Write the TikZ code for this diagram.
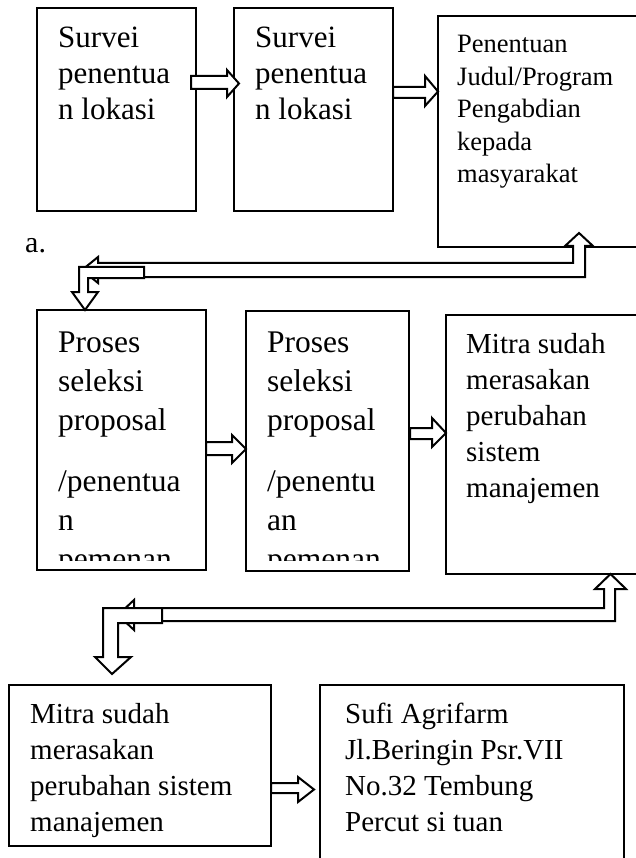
\documentclass[tikz,border=0pt]{standalone}
\usepackage{fontspec}
\setmainfont{Liberation Serif}
\usetikzlibrary{fit}
\newcommand{\boxlines}[3]{\parbox[t]{300pt}{\fontsize{#1}{#2}\selectfont\raggedright #3}}
\tikzset{
  box/.style={draw=black, line width=1.2pt, inner sep=0pt},
  barrow/.style={draw=black, line width=2pt, fill=white, line join=miter},
  txt/.style={anchor=base west, inner sep=0pt},
}
\begin{document}
\begin{tikzpicture}[x=1pt,y=-1pt]
\useasboundingbox (0,0) rectangle (636,858);
\clip (0,0) rectangle (636,858);
% boxes
\node[box, fit={(37,8)(196,211)}] (b1) {};
\node[box, fit={(234,8)(393,211)}] (b2) {};
\node[box, fit={(438,16)(650,247)}] (b3) {};
\node[box, fit={(37,310)(206,570)}] (b4) {};
\node[box, fit={(246,311)(409,571)}] (b5) {};
\node[box, fit={(446,315)(650,574)}] (b6) {};
\node[box, fit={(9,685)(271,846)}] (b7) {};
\node[box, fit={(320,685)(624,880)}] (b8) {};
% texts
\node[txt] (t1) at (58,48) {\boxlines{31}{36}{Survei\\penentua\\n lokasi}};
\node[txt] (t2) at (255,48) {\boxlines{31}{36}{Survei\\penentua\\n lokasi}};
\node[txt] (t3) at (457,53) {\boxlines{26.5}{32.5}{Penentuan\\Judul/Program\\Pengabdian\\kepada\\masyarakat}};
\node[txt] (ta) at (25,253) {\fontsize{30}{36}\selectfont a.};
\begin{scope}
\clip (37,310) rectangle (206,560);
\node[txt] (t4) at (58,352) {\boxlines{31.5}{39}{Proses\\seleksi\\proposal\\[22pt]/penentua\\n\\pemenan}};
\end{scope}
\begin{scope}
\clip (246,311) rectangle (409,560);
\node[txt] (t5) at (267,352) {\boxlines{31.5}{39}{Proses\\seleksi\\proposal\\[22pt]/penentu\\an\\pemenan}};
\end{scope}
\node[txt] (t6) at (466,353) {\boxlines{29}{36.2}{Mitra sudah\\merasakan\\perubahan\\sistem\\manajemen}};
\node[txt] (t7) at (30,723) {\boxlines{29}{36.3}{Mitra sudah\\merasakan\\perubahan sistem\\manajemen}};
\node[txt] (t8) at (345,723) {\boxlines{29}{36.3}{Sufi Agrifarm\\Jl.Beringin Psr.VII\\No.32 Tembung\\Percut si tuan}};
% block arrows
\draw[barrow] (191,76) -- (227,76) -- (227,70) -- (239,83.5) -- (227,97) -- (227,89) -- (191,89) -- cycle;
\draw[barrow] (393,87) -- (425,87) -- (425,76) -- (438,91.5) -- (425,106) -- (425,98) -- (393,98) -- cycle;
\draw[barrow] (206,442) -- (232,442) -- (232,435) -- (246,449) -- (232,463) -- (232,455) -- (206,455) -- cycle;
\draw[barrow] (410,428) -- (432,428) -- (432,418) -- (446,433) -- (432,447) -- (432,439) -- (410,439) -- cycle;
\draw[barrow] (271,783) -- (298,783) -- (298,777) -- (314,789.5) -- (298,802) -- (298,793) -- (271,793) -- cycle;
% bent arrow 1 (left-up)
\draw[barrow] (82,270) -- (98,257) -- (98,263) -- (573,263) -- (573,246) -- (565,246) -- (579,233) -- (593,246) -- (585,246) -- (585,277) -- (98,277) -- (98,283) -- cycle;
\draw[barrow] (144,267) -- (79,267) -- (79,292) -- (72,292) -- (85,310) -- (98,292) -- (88,292) -- (88,278) -- (144,278) -- cycle;
% bent arrow 2 (left-up)
\draw[barrow] (118,615) -- (134,600) -- (134,608) -- (604,608) -- (604,589) -- (595,589) -- (610.5,574) -- (626,589) -- (615,589) -- (615,621) -- (134,621) -- (134,630) -- cycle;
\draw[barrow] (162,608) -- (103,608) -- (103,657) -- (95,657) -- (112,674) -- (131,657) -- (118,657) -- (118,623) -- (162,623) -- cycle;
\end{tikzpicture}
\end{document}
